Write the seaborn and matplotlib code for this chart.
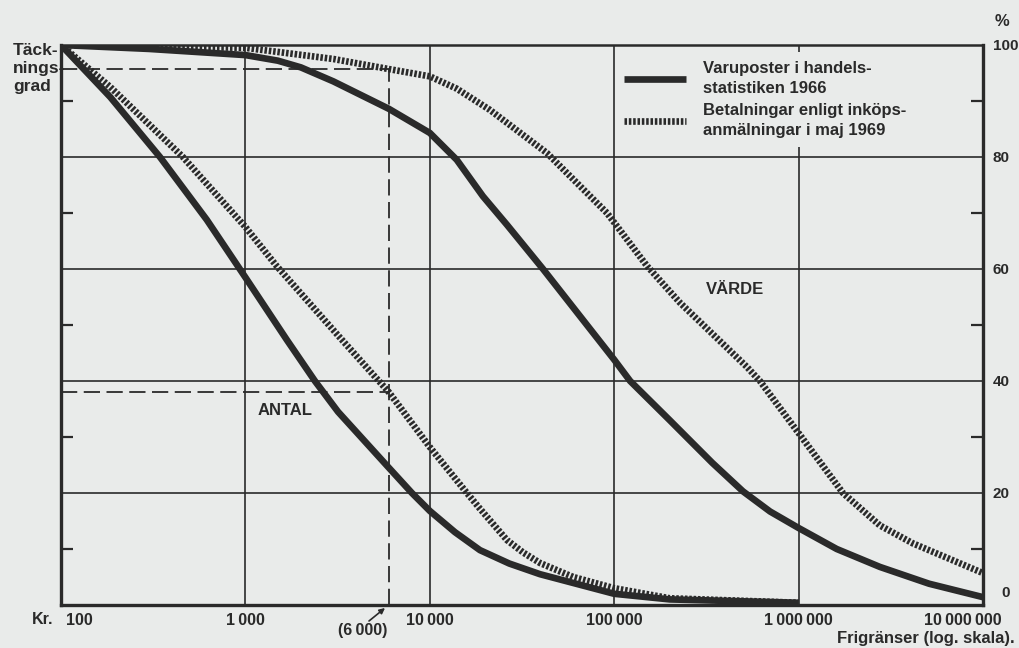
import matplotlib
matplotlib.use("Agg")
import matplotlib.pyplot as plt
from matplotlib.lines import Line2D
from matplotlib.transforms import ScaledTranslation
import pandas as pd
import seaborn as sns

# ---------------- data ----------------
varu_antal_x = [100, 185, 344, 617, 1000, 1681, 2382, 3180, 6000, 8000, 10000, 13700, 18700, 27000, 39600, 100000, 200000, 1000000]
varu_antal_y = [100, 90.7, 80, 68.8, 58.5, 47.3, 40, 34.5, 24.5, 20, 16.8, 13, 9.8, 7.4, 5.5, 2.0, 1.0, 0.4]

betal_antal_x = [100, 185, 458, 1000, 1480, 3350, 6000, 10000, 15900, 18700, 26200, 32000, 39600, 59900, 100000, 200000, 1000000]
betal_antal_y = [100, 92.5, 80, 67.5, 60.5, 47.3, 38, 28.2, 20, 17.2, 11.6, 9.4, 7.5, 5, 3, 1.2, 0.4]

varu_varde_x = [100, 300, 1000, 1500, 2000, 3000, 6000, 10000, 14000, 19400, 26200, 41100, 100000, 122000, 200000, 340000, 499000, 700000, 1000000, 1610000, 2760000, 5100000, 10000000]
varu_varde_y = [100, 99.3, 98.2, 97.2, 96.0, 93.5, 88.6, 84.3, 79.5, 73, 67.9, 60, 43.8, 40, 33, 25.4, 20.3, 16.7, 13.75, 10.0, 6.8, 3.8, 1.4]

betal_varde_x = [100, 1000, 3000, 6000, 10000, 14000, 21200, 43200, 91400, 151000, 227000, 525000, 617000, 1000000, 1740000, 2760000, 4170000, 10000000]
betal_varde_y = [100, 99.5, 97.5, 95.7, 94.4, 92.2, 88.4, 80.7, 70, 60.5, 54, 42.5, 40, 30.7, 20, 14.2, 11, 5.7]

cut_limit = 6000
cut_varde = 95.7
cut_antal = 38

x_ticks = [100, 1000, 10000, 100000, 1000000, 10000000]
x_ticklabels = ["100", "1\u2009000", "10\u2009000", "100\u2009000", "1\u2009000\u2009000", "10\u2009000\u2009000"]
y_ticks = [0, 20, 40, 60, 80, 100]
y_ticklabels = ["", "20", "40", "60", "80", "100"]
y_minor = [10, 30, 50, 70, 90]

legend_labels = ["Varuposter i handels-\nstatistiken 1966",
                 "Betalningar enligt inköps-\nanmälningar i maj 1969"]

# ---------------- style ----------------
paper = "#e9ebea"
ink = "#2a2a2a"
sns.set_style("white")
plt.rcParams["font.family"] = ["Liberation Sans", "DejaVu Sans"]
plt.rcParams["text.color"] = ink

W, H = 1019, 648
fig = plt.figure(figsize=(W / 100, H / 100), dpi=100, facecolor=paper)
ax = fig.add_axes([61 / W, 1 - 605 / H, 922 / W, 560 / H], facecolor=paper)

lw = 4.8
hatch = (0, (0.38, 0.27))

def frame(xs, ys):
    return pd.DataFrame({"limit": xs, "pct": ys})

for xs, ys in [(varu_antal_x, varu_antal_y), (varu_varde_x, varu_varde_y)]:
    sns.lineplot(data=frame(xs, ys), x="limit", y="pct", ax=ax, color=ink, lw=lw,
                 estimator=None, sort=False, solid_capstyle="butt",
                 solid_joinstyle="round", zorder=4)
for xs, ys in [(betal_antal_x, betal_antal_y), (betal_varde_x, betal_varde_y)]:
    sns.lineplot(data=frame(xs, ys), x="limit", y="pct", ax=ax, color=ink, lw=lw,
                 estimator=None, sort=False, linestyle=hatch,
                 dash_capstyle="butt", zorder=3)

ax.set_xscale("log")
ax.set_xlim(100, 10000000)
ax.set_ylim(0, 100)
ax.set_xlabel("")
ax.set_ylabel("")

# dashed guide lines
dash = (0, (9, 3.6))
ax.plot([100, cut_limit], [cut_varde, cut_varde], color=ink, lw=1.3, linestyle=dash, zorder=2)
ax.plot([100, cut_limit], [cut_antal, cut_antal], color=ink, lw=1.3, linestyle=dash, zorder=2)
ax.plot([cut_limit, cut_limit], [0, cut_varde], color=ink, lw=1.3, linestyle=dash, zorder=2)

# grid
for xv in x_ticks[1:-1]:
    ax.axvline(xv, color=ink, lw=1.2, zorder=1)
for yv in y_ticks[1:-1]:
    ax.axhline(yv, color=ink, lw=1.2, zorder=1)

# spines
for s in ["left", "right", "bottom"]:
    ax.spines[s].set_linewidth(2.4)
    ax.spines[s].set_color(ink)
ax.spines["top"].set_linewidth(1.8)
ax.spines["top"].set_color(ink)

# ticks
ax.set_xticks(x_ticks)
ax.set_xticklabels(x_ticklabels)
ax.xaxis.set_minor_locator(matplotlib.ticker.NullLocator())
ax.tick_params(axis="x", which="major", length=0, pad=6, labelsize=11.5, labelcolor=ink)
for t in ax.get_xticklabels():
    t.set_fontweight("bold")
first = ax.get_xticklabels()[0]
first.set_ha("left")
first.set_transform(first.get_transform() + ScaledTranslation(0.05, 0, fig.dpi_scale_trans))
last = ax.get_xticklabels()[-1]
last.set_transform(last.get_transform() + ScaledTranslation(-0.2, 0, fig.dpi_scale_trans))

ax.yaxis.tick_right()
ax.set_yticks(y_ticks)
ax.set_yticklabels(y_ticklabels)
ax.set_yticks(y_minor, minor=True)
ax.tick_params(axis="y", which="major", length=0, pad=7, labelsize=11, labelcolor=ink)
for t in ax.get_yticklabels():
    t.set_fontweight("bold")
ax.tick_params(axis="y", which="minor", direction="in", length=8.5, width=1.6,
               color=ink, left=True, right=True)

# legend
handles = [Line2D([], [], color=ink, lw=lw, solid_capstyle="butt"),
           Line2D([], [], color=ink, lw=lw, linestyle=hatch, dash_capstyle="butt")]
leg = ax.legend(handles, legend_labels, loc="upper left", bbox_to_anchor=(0.601, 0.9875),
                borderaxespad=0, borderpad=0.55, frameon=True, facecolor=paper,
                edgecolor="none", framealpha=1, fancybox=False,
                prop={"size": 12, "weight": "bold"},
                handlelength=3.7, handletextpad=1.0, labelspacing=0.45)
leg.set_zorder(6)
for t in leg.get_texts():
    t.set_color(ink)
    t.set_linespacing(1.4)

# annotations
ax.text(452000, 56.3, "VÄRDE", ha="center", va="center", fontsize=12, fontweight="bold", zorder=5)
ax.text(1640, 34.8, "ANTAL", ha="center", va="center", fontsize=12, fontweight="bold", zorder=5)

def fp(x, y):
    return x / W, 1 - y / H

fig.text(*fp(13, 43), "Täck-\nnings-\ngrad", ha="left", va="top", fontsize=12.5,
         fontweight="bold", linespacing=1.25)
fig.text(*fp(1002, 22), "%", ha="center", va="center", fontsize=12, fontweight="bold")
fig.text(*fp(1006, 593), "0", ha="center", va="center", fontsize=11, fontweight="bold")
fig.text(*fp(43, 619), "Kr.", ha="center", va="center", fontsize=11.5, fontweight="bold")
fig.text(*fp(1015, 638), "Frigränser (log. skala).", ha="right", va="center", fontsize=12,
         fontweight="bold")
fig.text(*fp(363, 631), "(6\u2009000)", ha="center", va="center", fontsize=11.5,
         fontweight="bold")
ax.annotate("", xy=fp(385, 608), xycoords="figure fraction",
            xytext=fp(369, 621), textcoords="figure fraction",
            arrowprops=dict(arrowstyle="-|>", color=ink, lw=1.2, mutation_scale=8,
                            shrinkA=0, shrinkB=0),
            annotation_clip=False)

fig.savefig("out.png", dpi=100, facecolor=paper)
